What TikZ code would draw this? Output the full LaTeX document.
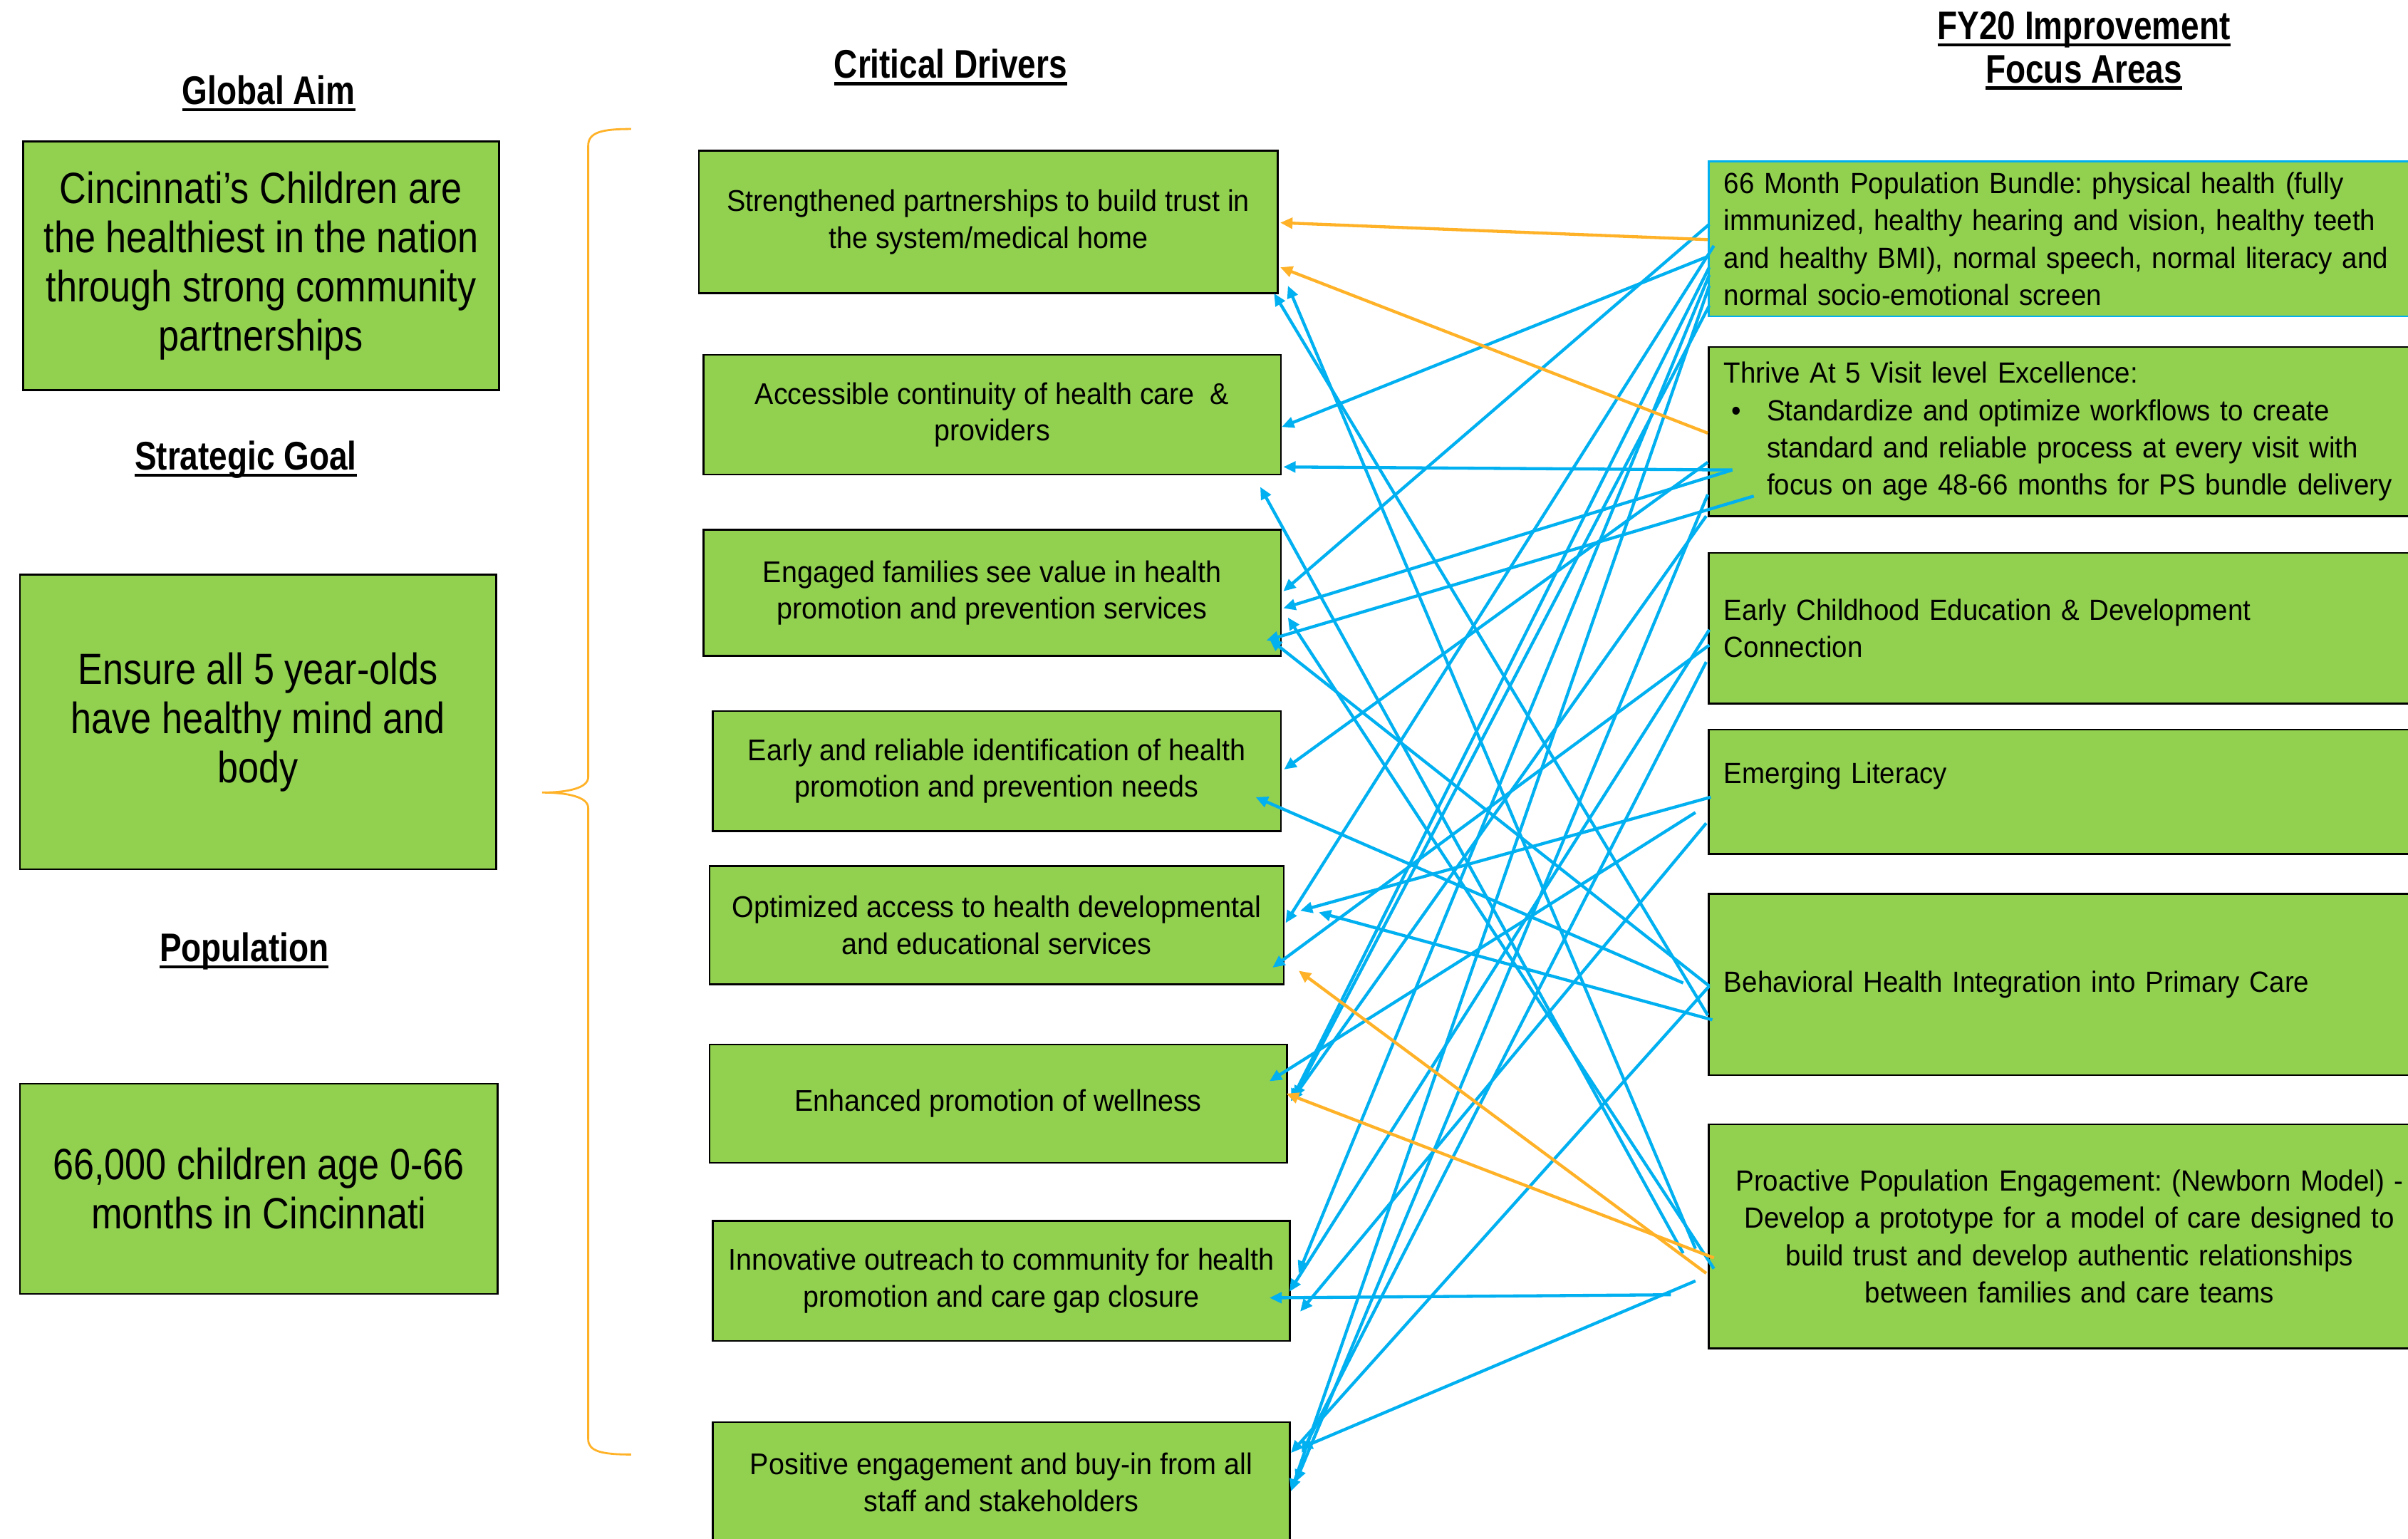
\documentclass[tikz,border=0pt]{standalone}
\usepackage{fontspec}
\setmainfont{Liberation Sans}[FakeStretch=0.94]
\newfontfamily\headfont{Liberation Sans}[FakeStretch=0.82]
\newfontfamily\aimfont{Liberation Sans}[FakeStretch=0.85]
\usepackage{xcolor}
\usetikzlibrary{positioning,calc,arrows.meta}
\frenchspacing

\definecolor{boxgreen}{HTML}{92D050}
\definecolor{linkblue}{HTML}{00B0F0}
\definecolor{linkorange}{RGB}{255,178,40}
\newcommand{\headul}[1]{\setbox0=\hbox{#1}\rlap{\rule[-4.5pt]{\wd0}{2pt}}\box0}

\begin{document}
\begin{tikzpicture}[x=1pt,y=-1pt,
    head/.style={font=\headfont\bfseries\fontsize{26}{28}\selectfont,align=center,inner sep=0pt},
    aimbox/.style={draw=black,line width=1.2pt,fill=boxgreen,align=center,inner sep=0pt,
                   font=\aimfont\fontsize{28.5}{32}\selectfont},
    drvbox/.style={draw=black,line width=1.2pt,fill=boxgreen,align=center,inner sep=0pt,
                   font=\fontsize{19.5}{24}\selectfont},
    focus/.style={draw=black,line width=1.2pt,fill=boxgreen,align=left,anchor=west,
                  text width=450pt,inner xsep=10pt,inner ysep=0pt,
                  font=\fontsize{19}{24.3}\selectfont},
    link/.style={draw=linkblue,line width=2pt,-{Triangle[length=8pt,width=7pt]}},
    boost/.style={draw=linkorange,line width=2pt,-{Triangle[length=8pt,width=7pt]}},
    brace/.style={draw=linkorange,line width=1.3pt}]
  \useasboundingbox (0,0) rectangle (1568,1002);
  \clip (0,0) rectangle (1568,1002);

  % column titles
  \node[head,anchor=base] (aimtitle)  at (175,68)  {\headul{Global Aim}};
  \node[head,anchor=base] (goaltitle) at (160,306) {\headul{Strategic Goal}};
  \node[head,anchor=base] (poptitle)  at (159,626) {\headul{Population}};
  \node[head,anchor=base] (drvtitle)  at (619,51)  {\headul{Critical Drivers}};
  \node[head] (fytitle) at (1357,33) {\headul{FY20 Improvement}\\\headul{Focus Areas}};

  % aim, goal and population
  \node[aimbox,minimum width=310pt,minimum height=162pt] (aim)  at (170,173)
    {Cincinnati’s Children are\\the healthiest in the nation\\through strong community\\partnerships};
  \node[aimbox,minimum width=310pt,minimum height=192pt] (goal) at (168,470)
    {Ensure all 5 year-olds\\have healthy mind and\\body};
  \node[aimbox,minimum width=311pt,minimum height=137pt] (pop)  at (168.5,774)
    {66,000 children age 0-66\\months in Cincinnati};

  \draw[brace] (411,84) .. controls (392,84) and (383,86) .. (383,95) -- (383,506)
    .. controls (383,513) and (370,516) .. (353,516)
    .. controls (370,516) and (383,519) .. (383,526) -- (383,937)
    .. controls (383,945) and (392,947) .. (411,947);

  % critical drivers
  \node[drvbox,minimum width=377pt,minimum height=93pt] (d1) at (643.5,144.5)
    {Strengthened partnerships to build trust in\\the system/medical home};
  \node[drvbox,minimum width=376pt,minimum height=78pt] (d2) at (646,270)
    {Accessible continuity of health care\ \ \&\\providers};
  \node[drvbox,minimum width=376pt,minimum height=82pt] (d3) at (646,386)
    {Engaged families see value in health\\promotion and prevention services};
  \node[drvbox,minimum width=370pt,minimum height=78pt] (d4) at (649,502)
    {Early and reliable identification of health\\promotion and prevention needs};
  \node[drvbox,minimum width=374pt,minimum height=77pt] (d5) at (649,602.5)
    {Optimized access to health developmental\\and educational services};
  \node[drvbox,minimum width=376pt,minimum height=77pt] (d6) at (650,718.5)
    {Enhanced promotion of wellness};
  \node[drvbox,minimum width=376pt,minimum height=78pt] (d7) at (652,834)
    {Innovative outreach to community for health\\promotion and care gap closure};
  \node[drvbox,minimum width=376pt,minimum height=78pt] (d8) at (652,965)
    {Positive engagement and buy-in from all\\staff and stakeholders};

  % focus areas
  \node[focus,draw=linkblue,minimum height=101pt] (f1) at (1112,155.5)
    {66 Month Population Bundle: physical health (fully\\immunized, healthy hearing and vision, healthy teeth\\and healthy BMI), normal speech, normal literacy and\\normal socio-emotional screen};
  \node[focus,minimum height=110pt] (f2) at (1112,281)
    {Thrive At 5 Visit level Excellence:\\
     \makebox[28pt][l]{\hspace{5pt}\textbullet}Standardize and optimize workflows to create\\
     \hspace*{28pt}standard and reliable process at every visit with\\
     \hspace*{28pt}focus on age 48-66 months for PS bundle delivery};
  \node[focus,minimum height=98pt] (f3) at (1112,409)
    {Early Childhood Education \& Development\\Connection};
  \node[focus,minimum height=81pt] (f4) at (1112,515.5)
    {Emerging Literacy\\\mbox{}};
  \node[focus,minimum height=118pt] (f5) at (1112,641)
    {Behavioral Health Integration into Primary Care};
  \node[focus,align=center,minimum height=146pt] (f6) at (1112,805)
    {Proactive Population Engagement: (Newborn Model) -\\Develop a prototype for a model of care designed to\\build trust and develop authentic relationships\\between families and care teams};

  % links: focus area / offset / driver / offset
  \foreach \f/\fx/\fy/\d/\dx/\dy in {
      1/0/11.5/2/0/8, 1/1/-9.5/3/1/-1, 1/4/4.5/5/0.5/-1.5, 1/1/18.5/6/2/-1.5,
      1/1/23.5/7/5/-5, 1/1/30.5/8/0/6, 1/1/43.5/6/4/-3.5,
      2/16/25/2/1/34, 2/16/25/3/1/10, 2/30/42/3/-10/31, 2/0/20/4/1.5/-1,
      2/0/41/8/3/0, 2/-1/55/6/2/-1.5,
      3/1/1/7/-1/7, 3/1/11/5/-8/27.5, 3/-1/22/8/7/-19,
      4/2/3.5/5/10/-9.5, 4/-8/13.5/6/-12/-14.5, 4/-1/20.5/7/6/20,
      5/1/1/3/-8/30, 5/1/1/8/0/-19, 5/0/20/1/-3/46.5, 5/3/23/5/22/-8.5,
      5/-16/-1/4/-17/17,
      6/-16/11/2/-14/47, 6/-8/8/1/6/41.5, 6/4/21/3/4/16, 6/-24/38/7/-14/11,
      6/-8/29/8/6/-22}
    \draw[link] ($(f\f.west)+(\fx,\fy)$) -- ($(d\d.east)+(\dx,\dy)$);

  \foreach \f/\fx/\fy/\d/\dx/\dy in {
      1/0/0.5/1/1/0.5, 2/0/1/1/1/29.5, 6/-1/24/5/9/29.5, 6/4/14/6/-1/-6.5}
    \draw[boost] ($(f\f.west)+(\fx,\fy)$) -- ($(d\d.east)+(\dx,\dy)$);
\end{tikzpicture}
\end{document}
